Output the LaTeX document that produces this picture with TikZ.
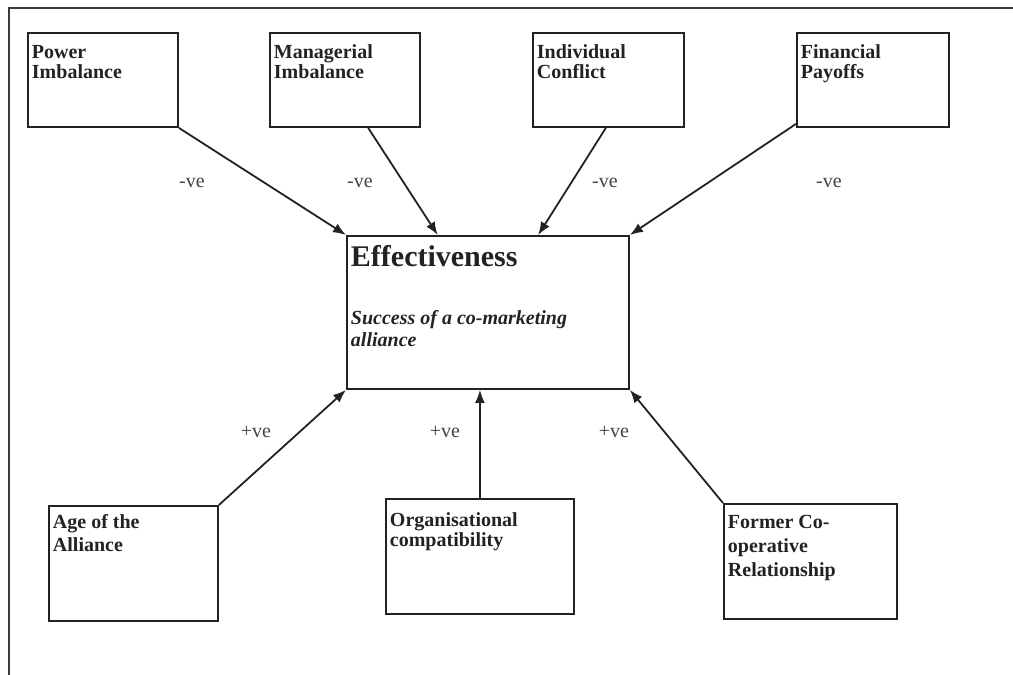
\documentclass[tikz,border=0pt]{standalone}
\usepackage{fontspec}
\setmainfont{Liberation Serif}
\usetikzlibrary{arrows.meta,calc}

\definecolor{ink}{HTML}{222222}
\definecolor{frameink}{HTML}{3A3A3A}
\definecolor{labelink}{HTML}{444444}

% box text: width, height, height of first line, line spacing, text
\newcommand{\boxtxt}[5]{%
  \parbox[t][#2][t]{#1}{\fontsize{20}{#4}\selectfont\bfseries\raggedright\rule{0pt}{#3}#5}}

\tikzset{
  factor/.style={draw=ink, line width=1.9pt, inner sep=4pt, anchor=north west, text=ink},
  effect/.style={->, draw=ink, line width=1.8pt, >={Latex[length=13pt,width=10pt]}},
  sign/.style={text=labelink, font=\fontsize{20}{20}\selectfont, inner sep=0pt},
  frameline/.style={draw=frameink, line width=2pt}
}

\begin{document}
\begin{tikzpicture}[x=1pt, y=-1pt]
\useasboundingbox (0,0) rectangle (1013,675);

% outer frame (top and left edges)
\coordinate (fr-tr) at (1013,8);
\coordinate (fr-tl) at (9,8);
\coordinate (fr-bl) at (9,675);
\draw[frameline] (fr-tr) -- (fr-tl) -- (fr-bl);

% negative factors
\node[factor] (power) at (27,32) {\boxtxt{142pt}{86pt}{22pt}{20pt}{Power\\Imbalance}};
\node[factor] (manag) at (269,32) {\boxtxt{142pt}{86pt}{22pt}{20pt}{Managerial\\Imbalance}};
\node[factor] (indiv) at (532,32) {\boxtxt{143pt}{86pt}{22pt}{20pt}{Individual\\Conflict}};
\node[factor] (finan) at (796,32) {\boxtxt{144pt}{86pt}{22pt}{20pt}{Financial\\Payoffs}};

% outcome
\node[factor] (eff) at (346,235) {\parbox[t][145pt][t]{274pt}{\raggedright
  \rule{0pt}{27pt}{\fontsize{30}{30}\selectfont\bfseries Effectiveness}\par
  {\fontsize{20}{22}\selectfont\bfseries\itshape\rule{0pt}{56pt}Success of a co-marketing\\alliance\par}}};

% positive factors
\node[factor] (age) at (48,505) {\boxtxt{161pt}{107pt}{19pt}{23pt}{Age of the\\Alliance}};
\node[factor] (org) at (385,498) {\boxtxt{180pt}{107pt}{24pt}{20pt}{Organisational\\compatibility}};
\node[factor] (former) at (723,503) {\boxtxt{165pt}{107pt}{21pt}{24pt}{Former Co-\\operative\\Relationship}};

% negative effects
\draw[effect] (power.south east) -- (eff.north west);
\draw[effect] ($(manag.south west)!0.653!(manag.south east)$) -- ($(eff.north west)!0.323!(eff.north east)$);
\draw[effect] ($(indiv.south west)!0.483!(indiv.south east)$) -- ($(eff.north west)!0.677!(eff.north east)$);
\draw[effect] ($(finan.south west)+(0,-4)$) -- (eff.north east);

% positive effects
\draw[effect] (age.north east) -- (eff.south west);
\draw[effect] (org.north) -- (org.north |- eff.south);
\draw[effect] (former.north west) -- (eff.south east);

% signs
\node[sign] (n1) at (192,183) {-ve};
\node[sign] (n2) at (360,183) {-ve};
\node[sign] (n3) at (605,183) {-ve};
\node[sign] (n4) at (829,183) {-ve};
\node[sign] (p1) at (256,432) {+ve};
\node[sign] (p2) at (445,432) {+ve};
\node[sign] (p3) at (614,432) {+ve};
\end{tikzpicture}
\end{document}
